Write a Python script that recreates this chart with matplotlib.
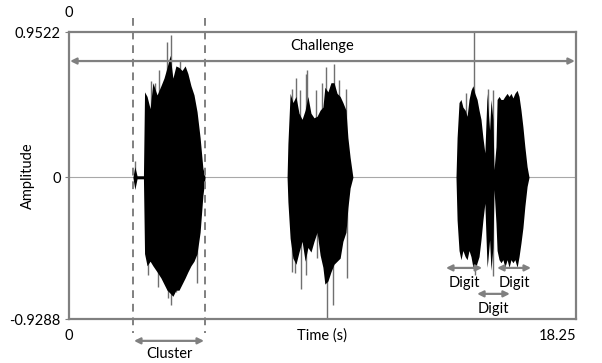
import numpy as np
import matplotlib.pyplot as plt

plt.rcParams['font.family'] = ['Lato', 'DejaVu Sans']

# time axis limits (s) and amplitude limits
t_max = 18.25
amp_max = 0.9522
amp_min = -0.9288

# waveform envelope (three utterances)
env_t = [0.00, 2.30, 2.37, 2.45, 2.68, 2.72, 2.81, 2.92, 3.02, 3.17, 3.31, 3.42, 3.53, 3.64,
         3.74, 3.85, 3.96, 4.07, 4.18, 4.28, 4.39, 4.50, 4.61, 4.72, 4.82, 4.90,
         7.85, 7.88, 7.96, 8.06, 8.17, 8.28, 8.39, 8.50, 8.60, 8.71, 8.82, 8.93, 9.04,
         9.14, 9.21, 9.32, 9.43, 9.54, 9.65, 9.76, 9.86, 9.97, 10.04, 10.12, 10.22,
         13.93, 13.97, 14.04, 14.11, 14.18, 14.26, 14.33, 14.40, 14.47, 14.54, 14.61,
         14.69, 14.76, 14.83, 14.90, 14.97, 15.01, 15.05, 15.08, 15.14, 15.19, 15.26,
         15.30, 15.37, 15.41, 15.48, 15.55, 15.62, 15.69, 15.77, 15.84, 15.91, 15.98,
         16.05, 16.13, 16.20, 16.27, 16.34, 16.41, 16.49, 16.56, 18.25]
env_up = [0, 0, 0.07, 0.01, 0.01, 0.56, 0.53, 0.45, 0.62, 0.54, 0.60, 0.65, 0.72, 0.80,
          0.65, 0.73, 0.72, 0.70, 0.73, 0.68, 0.60, 0.54, 0.43, 0.26, 0.06, 0,
          0, 0.22, 0.55, 0.49, 0.53, 0.42, 0.38, 0.44, 0.53, 0.42, 0.39, 0.40, 0.44,
          0.46, 0.59, 0.56, 0.62, 0.62, 0.55, 0.53, 0.49, 0.44, 0.26, 0.13, 0,
          0, 0.26, 0.49, 0.51, 0.46, 0.44, 0.40, 0.51, 0.57, 0.60, 0.55,
          0.51, 0.44, 0.38, 0.26, 0.16, 0.36, 0.55, 0.46, 0.31, 0.51, 0.38,
          0.05, 0.20, 0.51, 0.53, 0.51, 0.51, 0.53, 0.55, 0.53, 0.55, 0.52,
          0.55, 0.57, 0.53, 0.44, 0.33, 0.20, 0.07, 0, 0]
env_lo = [0, 0, -0.08, -0.01, -0.01, -0.50, -0.58, -0.55, -0.58, -0.62, -0.66, -0.70, -0.74, -0.76,
          -0.78, -0.74, -0.74, -0.70, -0.66, -0.62, -0.58, -0.55, -0.50, -0.36, -0.12, 0,
          0, -0.16, -0.40, -0.53, -0.57, -0.49, -0.42, -0.55, -0.46, -0.49, -0.42, -0.36, -0.51,
          -0.59, -0.70, -0.68, -0.62, -0.57, -0.55, -0.53, -0.42, -0.36, -0.20, -0.07, 0,
          0, -0.28, -0.48, -0.54, -0.48, -0.52, -0.54, -0.48, -0.52, -0.59, -0.61,
          -0.56, -0.52, -0.41, -0.28, -0.17, -0.39, -0.59, -0.54, -0.41, -0.61, -0.46,
          -0.08, -0.30, -0.48, -0.54, -0.56, -0.54, -0.59, -0.54, -0.59, -0.54, -0.56,
          -0.54, -0.59, -0.52, -0.43, -0.33, -0.19, -0.06, 0, 0]

# lighter single peaks sticking out of the envelope
spike_t = [2.37, 2.84, 2.96, 3.08, 3.20, 3.23, 3.54, 3.56, 3.66, 3.68, 3.86, 4.01, 4.62,
           8.02, 8.02, 8.14, 8.17, 8.32, 8.34, 8.53, 8.53, 8.58, 8.89, 8.92, 9.10, 9.24,
           9.28, 9.51, 9.55, 9.73, 9.97, 10.00,
           14.30, 14.58, 14.62, 15.07, 15.25, 15.28]
spike_amp = [0.11, -0.64, 0.63, 0.62, -0.72, 0.70, 0.89, -0.79, 0.93, -0.84, -0.75, 0.77, -0.69,
             0.58, -0.62, -0.63, 0.65, 0.57, -0.73, 0.68, -0.64, 0.70, 0.57, -0.53, 0.62, 0.72,
             -0.92, -0.84, 0.74, 0.64, 0.58, -0.66,
             0.55, 0.9522, -0.64, 0.58, 0.57, -0.65]

grey = '#808080'

fig = plt.figure(figsize=(6.02, 3.63), dpi=100)
ax = fig.add_axes([0.1146, 0.1212, 0.8422, 0.7906])

ax.axhline(0, color='#a8a8a8', lw=0.8, zorder=1)
ax.vlines(spike_t, 0, spike_amp, color='#707070', lw=1.0, zorder=2)
ax.fill_between(env_t, env_lo, env_up, color='black', lw=0, zorder=3)

ax.set_xlim(0, t_max)
ax.set_ylim(amp_min, amp_max)
for s in ax.spines.values():
    s.set_color(grey)
    s.set_linewidth(1.6)

ax.set_yticks([amp_max, 0, amp_min])
ax.set_yticklabels(['0.9522', '0', '-0.9288'])
ax.set_xticks([0, t_max])
ax.set_xticklabels(['0', '18.25'])
ax.tick_params(axis='y', length=3, color=grey, labelsize=10.5, pad=3)
ax.tick_params(axis='x', length=0, labelsize=10.5, pad=7)
ax.get_xticklabels()[1].set_horizontalalignment('right')
ax.set_ylabel('Amplitude', fontsize=10.5)
ax.yaxis.set_label_coords(-0.067, 0.5)
ax.text(t_max / 2, -1.04, 'Time (s)', ha='center', va='center', fontsize=10.5)
ax.text(0, 1.08, '0', ha='center', va='center', fontsize=10.5)

# dashed lines marking the first cluster
for tx in [2.30, 4.90]:
    ax.plot([tx, tx], [1.045, -1.02], color=grey, lw=1.4, ls=(0, (4, 3)), clip_on=False, zorder=4)

arrow = dict(arrowstyle='<|-|>', color=grey, lw=1.6, mutation_scale=9, shrinkA=0, shrinkB=0)


def span(t0, t1, y, label, ty):
    ax.annotate('', xy=(t0, y), xytext=(t1, y), arrowprops=arrow, annotation_clip=False, zorder=5)
    ax.text((t0 + t1) / 2, ty, label, ha='center', va='center', fontsize=10.5, zorder=6)


span(0.04, 18.21, 0.762, 'Challenge', 0.86)
span(2.34, 4.86, -1.072, 'Cluster', -1.16)
span(13.57, 14.87, -0.594, 'Digit', -0.69)
span(15.41, 16.63, -0.594, 'Digit', -0.69)
span(14.69, 15.87, -0.764, 'Digit', -0.86)

fig.savefig('out.png', dpi=100)
